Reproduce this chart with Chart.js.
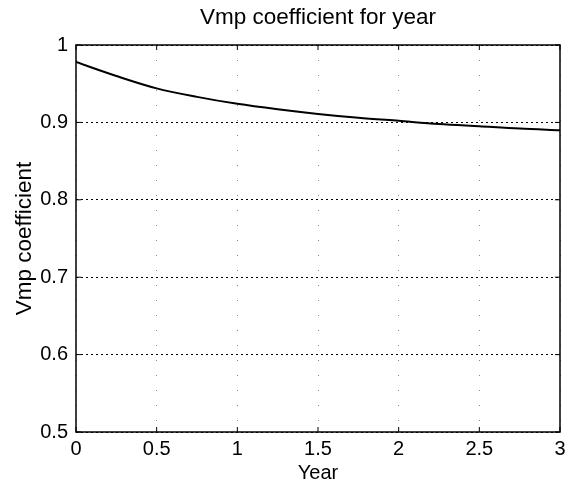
<!DOCTYPE html>
<html>
<head>
<meta charset="utf-8">
<script src="https://cdn.jsdelivr.net/npm/chart.js@4"></script>
<style>
    html, body { margin: 0; padding: 0; background: #fff; }
    #wrap { width: 581px; height: 485px; }
</style>
</head>
<body>
<div id="wrap"><canvas id="vmpChart"></canvas></div>
<script>
// Data
var years = [0, 0.25, 0.5, 0.75, 1, 1.25, 1.5, 1.75, 2, 2.25, 2.5, 2.75, 3];
var vmpCoeff = [0.978, 0.960, 0.944, 0.933, 0.924, 0.917, 0.911, 0.906, 0.902, 0.898, 0.895, 0.892, 0.890];
var xTicks = [0, 0.5, 1, 1.5, 2, 2.5, 3];
var yTicks = [0.5, 0.6, 0.7, 0.8, 0.9, 1];

// Box round the plot and MATLAB style inward ticks
var boxPlugin = {
    id: 'box',
    afterDraw: function(chart) {
        var ctx = chart.ctx;
        var a = chart.chartArea;
        var xs = chart.scales.x, ys = chart.scales.y;
        ctx.save();
        ctx.strokeStyle = '#000';
        ctx.lineWidth = 1.5;
        ctx.strokeRect(a.left, a.top, a.right - a.left, a.bottom - a.top);
        ctx.lineWidth = 1;
        ctx.beginPath();
        xTicks.forEach(function(v) {
            var px = xs.getPixelForValue(v);
            ctx.moveTo(px, a.bottom); ctx.lineTo(px, a.bottom - 5);
            ctx.moveTo(px, a.top); ctx.lineTo(px, a.top + 5);
        });
        yTicks.forEach(function(v) {
            var py = ys.getPixelForValue(v);
            ctx.moveTo(a.left, py); ctx.lineTo(a.left + 5, py);
            ctx.moveTo(a.right, py); ctx.lineTo(a.right - 5, py);
        });
        ctx.stroke();
        ctx.restore();
    }
};

var ctx = document.getElementById('vmpChart').getContext('2d');
new Chart(ctx, {
    type: 'line',
    data: {
        datasets: [{
            data: years.map(function(x, i) { return { x: x, y: vmpCoeff[i] }; }),
            borderColor: '#000',
            borderWidth: 2,
            pointRadius: 0,
            fill: false,
            cubicInterpolationMode: 'monotone'
        }]
    },
    options: {
        responsive: true,
        maintainAspectRatio: false,
        animation: false,
        layout: { padding: { left: 0, right: 21, top: 0, bottom: 0 } },
        plugins: {
            legend: { display: false },
            tooltip: { enabled: false },
            title: {
                display: true,
                fullSize: false,
                text: 'Vmp coefficient for year',
                color: '#000',
                font: { family: 'Liberation Sans', size: 22.5, weight: 'normal' },
                padding: { top: 4, bottom: 14 }
            }
        },
        scales: {
            x: {
                type: 'linear',
                min: 0,
                max: 3,
                afterBuildTicks: function(s) { s.ticks = xTicks.map(function(v) { return { value: v }; }); },
                afterFit: function(s) { s.height = 53; },
                ticks: {
                    color: '#000',
                    padding: 5,
                    maxRotation: 0,
                    font: { family: 'Liberation Sans', size: 20 },
                    callback: function(v) { return String(v); }
                },
                grid: {
                    drawTicks: false,
                    color: '#888',
                    lineWidth: 1
                },
                border: { display: false, dash: [1, 14] },
                title: {
                    display: true,
                    text: 'Year',
                    color: '#000',
                    font: { family: 'Liberation Sans', size: 20 },
                    padding: { top: 0, bottom: 0 }
                }
            },
            y: {
                type: 'linear',
                min: 0.5,
                max: 1,
                afterBuildTicks: function(s) { s.ticks = yTicks.map(function(v) { return { value: v }; }); },
                afterFit: function(s) { s.width = 76; },
                ticks: {
                    color: '#000',
                    padding: 8,
                    font: { family: 'Liberation Sans', size: 20 },
                    callback: function(v) { return String(v); }
                },
                grid: {
                    drawTicks: false,
                    color: '#000',
                    lineWidth: 1
                },
                border: { display: false, dash: [2, 3] },
                title: {
                    display: true,
                    text: 'Vmp coefficient',
                    color: '#000',
                    font: { family: 'Liberation Sans', size: 22.5 },
                    padding: { top: 11, bottom: 0 }
                }
            }
        }
    },
    plugins: [boxPlugin]
});
</script>
</body>
</html>
